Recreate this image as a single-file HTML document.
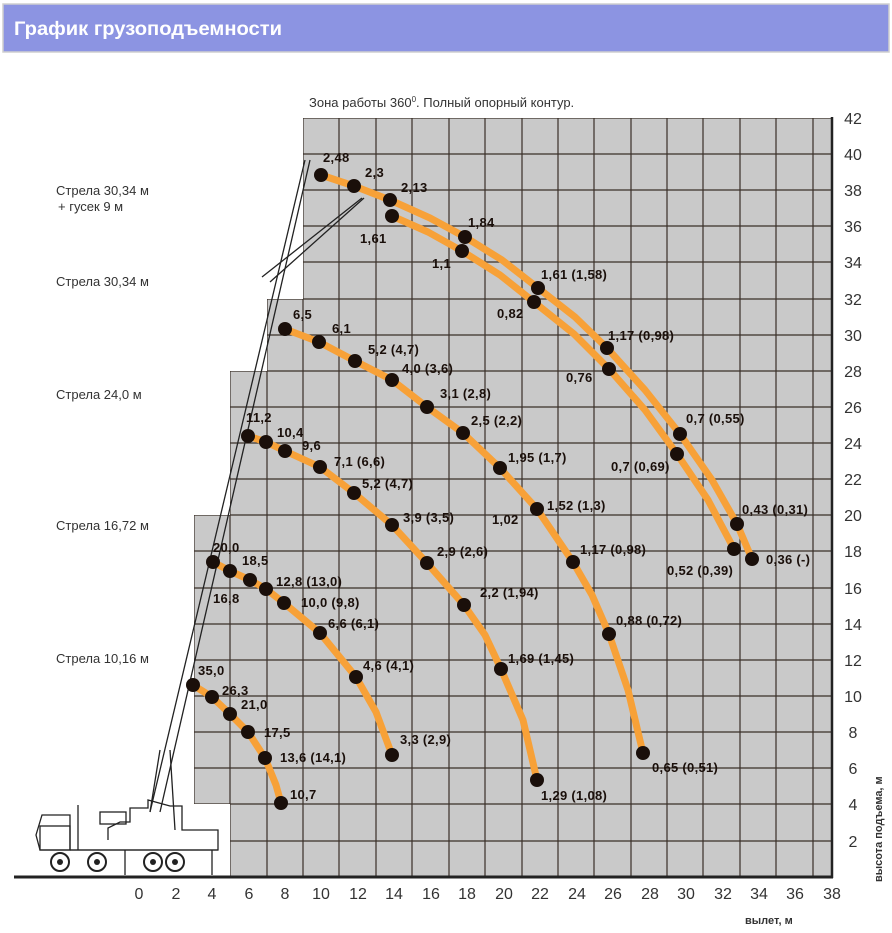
<!DOCTYPE html>
<html><head><meta charset="utf-8"><style>
body{margin:0;background:#fff;width:892px;height:933px;overflow:hidden}
svg{position:absolute;left:0;top:0}
</style></head><body>
<svg width="892" height="933" viewBox="0 0 892 933" xmlns="http://www.w3.org/2000/svg" font-family="Liberation Sans, sans-serif">
<rect x="3" y="4" width="886" height="48" fill="#8c94e2" stroke="#cfcfcf" stroke-width="1.5"/>
<text x="14" y="35" fill="#fff" font-size="19" font-weight="bold" textLength="268" lengthAdjust="spacingAndGlyphs">График грузоподъемности</text>
<text x="309" y="107" fill="#333" font-size="13">Зона работы 360<tspan font-size="8" dy="-5">0</tspan><tspan dy="5">.      Полный опорный контур.</tspan></text>
<defs><clipPath id="g"><polygon points="303,118 832,118 832,877 230,877 230,804 194,804 194,515 230,515 230,371 267,371 267,299 303,299"/></clipPath></defs>
<polygon points="303,118 832,118 832,877 230,877 230,804 194,804 194,515 230,515 230,371 267,371 267,299 303,299" fill="#c9c9c9"/>
<g clip-path="url(#g)" stroke="#3a3028" stroke-width="1.2">
<line x1="194" y1="100" x2="194" y2="880"/><line x1="230" y1="100" x2="230" y2="880"/><line x1="267" y1="100" x2="267" y2="880"/><line x1="303" y1="100" x2="303" y2="880"/><line x1="339" y1="100" x2="339" y2="880"/><line x1="376" y1="100" x2="376" y2="880"/><line x1="412" y1="100" x2="412" y2="880"/><line x1="449" y1="100" x2="449" y2="880"/><line x1="485" y1="100" x2="485" y2="880"/><line x1="522" y1="100" x2="522" y2="880"/><line x1="558" y1="100" x2="558" y2="880"/><line x1="594" y1="100" x2="594" y2="880"/><line x1="631" y1="100" x2="631" y2="880"/><line x1="667" y1="100" x2="667" y2="880"/><line x1="703" y1="100" x2="703" y2="880"/><line x1="740" y1="100" x2="740" y2="880"/><line x1="776" y1="100" x2="776" y2="880"/><line x1="813" y1="100" x2="813" y2="880"/>
<line x1="180" y1="118" x2="840" y2="118"/><line x1="180" y1="154" x2="840" y2="154"/><line x1="180" y1="190" x2="840" y2="190"/><line x1="180" y1="226" x2="840" y2="226"/><line x1="180" y1="262" x2="840" y2="262"/><line x1="180" y1="299" x2="840" y2="299"/><line x1="180" y1="335" x2="840" y2="335"/><line x1="180" y1="371" x2="840" y2="371"/><line x1="180" y1="407" x2="840" y2="407"/><line x1="180" y1="443" x2="840" y2="443"/><line x1="180" y1="479" x2="840" y2="479"/><line x1="180" y1="515" x2="840" y2="515"/><line x1="180" y1="551" x2="840" y2="551"/><line x1="180" y1="588" x2="840" y2="588"/><line x1="180" y1="624" x2="840" y2="624"/><line x1="180" y1="660" x2="840" y2="660"/><line x1="180" y1="696" x2="840" y2="696"/><line x1="180" y1="732" x2="840" y2="732"/><line x1="180" y1="768" x2="840" y2="768"/><line x1="180" y1="804" x2="840" y2="804"/><line x1="180" y1="841" x2="840" y2="841"/>
</g>
<line x1="832" y1="117" x2="832" y2="878" stroke="#222" stroke-width="2.5"/>
<line x1="14" y1="877" x2="833" y2="877" stroke="#222" stroke-width="3"/>
<g stroke="#222" stroke-width="1.3" fill="none">
<line x1="150" y1="812" x2="305" y2="160"/><line x1="160" y1="812" x2="310" y2="160"/>
<line x1="262" y1="277" x2="362" y2="198"/><line x1="270" y1="282" x2="364" y2="198"/>
<line x1="150" y1="812" x2="160" y2="750"/><line x1="175" y1="830" x2="170" y2="750"/>
<path d="M108 840 L108 828 L120 822 L130 822 L130 808 L148 808 L148 800 L170 806 L182 806 L182 830 L218 830 L218 850 L40 850 L36 835 L42 815 L70 815 L70 850"/>
<rect x="40" y="826" width="30" height="24"/>
<rect x="100" y="812" width="26" height="12"/>
<line x1="78" y1="805" x2="78" y2="850"/>
<line x1="70" y1="850" x2="218" y2="850"/>
<line x1="125" y1="850" x2="125" y2="875"/><line x1="212" y1="850" x2="212" y2="875"/>
</g>
<g fill="#fff" stroke="#222" stroke-width="2"><circle cx="60" cy="862" r="9"/><circle cx="97" cy="862" r="9"/><circle cx="153" cy="862" r="9"/><circle cx="175" cy="862" r="9"/></g>
<g fill="#222"><circle cx="60" cy="862" r="3"/><circle cx="97" cy="862" r="3"/><circle cx="153" cy="862" r="3"/><circle cx="175" cy="862" r="3"/></g>
<g fill="none" stroke="#f7a138" stroke-width="7" stroke-linejoin="round" stroke-linecap="round">
<polyline points="321,175 354,186 390,200 430,218 465,237 502,260 538,288 575,317 607,348 645,390 680,434 712,480 737,524 752,559"/>
<polyline points="392,216 428,232 462,251 500,275 534,302 574,334 609,369 645,410 677,454 708,500 734,549"/>
<polyline points="285,329 319,342 355,361 392,380 427,407 463,433 500,468 537,509 573,562 592,595 609,634 628,690 643,753"/>
<polyline points="248,436 266,442 285,451 320,467 354,493 392,525 427,563 464,605 485,635 501,669 523,720 537,780"/>
<polyline points="213,562 230,571 250,580 266,589 284,603 320,633 356,677 376,712 392,755"/>
<polyline points="193,685 212,697 230,714 248,732 265,758 276,785 281,803"/>
</g>
<g fill="#1a0f0a">
<circle cx="321" cy="175" r="7"/><circle cx="354" cy="186" r="7"/><circle cx="390" cy="200" r="7"/><circle cx="465" cy="237" r="7"/><circle cx="538" cy="288" r="7"/><circle cx="607" cy="348" r="7"/><circle cx="680" cy="434" r="7"/><circle cx="737" cy="524" r="7"/><circle cx="752" cy="559" r="7"/>
<circle cx="392" cy="216" r="7"/><circle cx="462" cy="251" r="7"/><circle cx="534" cy="302" r="7"/><circle cx="609" cy="369" r="7"/><circle cx="677" cy="454" r="7"/><circle cx="734" cy="549" r="7"/>
<circle cx="285" cy="329" r="7"/><circle cx="319" cy="342" r="7"/><circle cx="355" cy="361" r="7"/><circle cx="392" cy="380" r="7"/><circle cx="427" cy="407" r="7"/><circle cx="463" cy="433" r="7"/><circle cx="500" cy="468" r="7"/><circle cx="537" cy="509" r="7"/><circle cx="573" cy="562" r="7"/><circle cx="609" cy="634" r="7"/><circle cx="643" cy="753" r="7"/>
<circle cx="248" cy="436" r="7"/><circle cx="266" cy="442" r="7"/><circle cx="285" cy="451" r="7"/><circle cx="320" cy="467" r="7"/><circle cx="354" cy="493" r="7"/><circle cx="392" cy="525" r="7"/><circle cx="427" cy="563" r="7"/><circle cx="464" cy="605" r="7"/><circle cx="501" cy="669" r="7"/><circle cx="537" cy="780" r="7"/>
<circle cx="213" cy="562" r="7"/><circle cx="230" cy="571" r="7"/><circle cx="250" cy="580" r="7"/><circle cx="266" cy="589" r="7"/><circle cx="284" cy="603" r="7"/><circle cx="320" cy="633" r="7"/><circle cx="356" cy="677" r="7"/><circle cx="392" cy="755" r="7"/>
<circle cx="193" cy="685" r="7"/><circle cx="212" cy="697" r="7"/><circle cx="230" cy="714" r="7"/><circle cx="248" cy="732" r="7"/><circle cx="265" cy="758" r="7"/><circle cx="281" cy="803" r="7"/>
</g>
<g fill="#1a0f0a" font-size="13" font-weight="bold" letter-spacing="0.3">
<text x="323" y="162">2,48</text><text x="365" y="177">2,3</text><text x="401" y="192">2,13</text><text x="468" y="227">1,84</text><text x="541" y="279">1,61 (1,58)</text><text x="608" y="340">1,17 (0,98)</text><text x="686" y="423">0,7 (0,55)</text><text x="742" y="514">0,43 (0,31)</text><text x="766" y="564">0,36 (-)</text>
<text x="360" y="243">1,61</text><text x="432" y="268">1,1</text><text x="497" y="318">0,82</text><text x="566" y="382">0,76</text><text x="611" y="471">0,7 (0,69)</text><text x="667" y="575">0,52 (0,39)</text>
<text x="293" y="319">6,5</text><text x="332" y="333">6,1</text><text x="368" y="354">5,2 (4,7)</text><text x="402" y="373">4,0 (3,6)</text><text x="440" y="398">3,1 (2,8)</text><text x="471" y="425">2,5 (2,2)</text><text x="508" y="462">1,95 (1,7)</text><text x="492" y="524">1,02</text><text x="547" y="510">1,52 (1,3)</text><text x="580" y="554">1,17 (0,98)</text><text x="616" y="625">0,88 (0,72)</text><text x="652" y="772">0,65 (0,51)</text>
<text x="246" y="422">11,2</text><text x="277" y="437">10,4</text><text x="302" y="450">9,6</text><text x="334" y="466">7,1 (6,6)</text><text x="362" y="488">5,2 (4,7)</text><text x="403" y="522">3,9 (3,5)</text><text x="437" y="556">2,9 (2,6)</text><text x="480" y="597">2,2 (1,94)</text><text x="508" y="663">1,69 (1,45)</text><text x="541" y="800">1,29 (1,08)</text>
<text x="213" y="552">20,0</text><text x="242" y="565">18,5</text><text x="213" y="603">16,8</text><text x="276" y="586">12,8 (13,0)</text><text x="301" y="607">10,0 (9,8)</text><text x="328" y="628">6,6 (6,1)</text><text x="363" y="670">4,6 (4,1)</text><text x="400" y="744">3,3 (2,9)</text>
<text x="198" y="675">35,0</text><text x="222" y="695">26,3</text><text x="241" y="709">21,0</text><text x="264" y="737">17,5</text><text x="280" y="762">13,6 (14,1)</text><text x="290" y="799">10,7</text>
</g>
<g fill="#333" font-size="13">
<text x="56" y="195">Стрела 30,34 м</text><text x="58" y="211">+ гусек 9 м</text>
<text x="56" y="286">Стрела 30,34 м</text><text x="56" y="399">Стрела 24,0 м</text>
<text x="56" y="530">Стрела 16,72 м</text><text x="56" y="663">Стрела 10,16 м</text>
</g>
<g fill="#333" font-size="16" text-anchor="middle">
<text x="139" y="899">0</text><text x="176" y="899">2</text><text x="212" y="899">4</text><text x="249" y="899">6</text><text x="285" y="899">8</text><text x="321" y="899">10</text><text x="358" y="899">12</text><text x="394" y="899">14</text><text x="431" y="899">16</text><text x="467" y="899">18</text><text x="504" y="899">20</text><text x="540" y="899">22</text><text x="577" y="899">24</text><text x="613" y="899">26</text><text x="650" y="899">28</text><text x="686" y="899">30</text><text x="723" y="899">32</text><text x="759" y="899">34</text><text x="795" y="899">36</text><text x="832" y="899">38</text>
<text x="853" y="124">42</text><text x="853" y="160">40</text><text x="853" y="196">38</text><text x="853" y="232">36</text><text x="853" y="268">34</text><text x="853" y="305">32</text><text x="853" y="341">30</text><text x="853" y="377">28</text><text x="853" y="413">26</text><text x="853" y="449">24</text><text x="853" y="485">22</text><text x="853" y="521">20</text><text x="853" y="557">18</text><text x="853" y="594">16</text><text x="853" y="630">14</text><text x="853" y="666">12</text><text x="853" y="702">10</text><text x="853" y="738">8</text><text x="853" y="774">6</text><text x="853" y="810">4</text><text x="853" y="847">2</text>
</g>
<text x="745" y="924" fill="#333" font-size="11" font-weight="bold">вылет, м</text>
<text transform="translate(882,882) rotate(-90)" fill="#333" font-size="11" font-weight="bold">высота подъема, м</text>
</svg>
</body></html>
